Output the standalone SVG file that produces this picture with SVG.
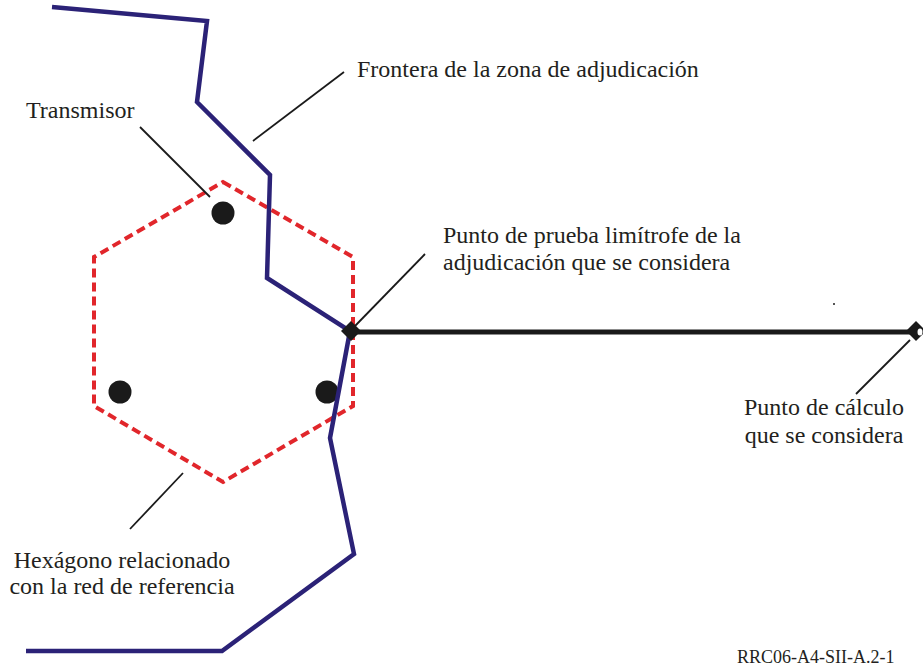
<svg xmlns="http://www.w3.org/2000/svg" width="923" height="668" viewBox="0 0 923 668">
<style>
.lead{stroke:#1a1a1a;stroke-width:1.8;fill:none}
.border{stroke:#2b2277;stroke-width:4.5;fill:none;stroke-linejoin:miter}
.hex{stroke:#e1262b;stroke-width:4;fill:none;stroke-dasharray:9 5}
.dot{fill:#1a1a1a}
</style>
<rect width="923" height="668" fill="#ffffff"/>
<g id="hexagon">
<polygon class="hex" points="223,182 353,257 353,406 223,482 94,406 94,257"/>
</g>
<g id="transmitters">
<circle class="dot" cx="223" cy="213" r="11.5"/>
<circle class="dot" cx="120" cy="392" r="11.5"/>
<circle class="dot" cx="327" cy="392" r="11.5"/>
</g>
<g id="boundary">
<polyline class="border" points="52,7 207,21 197,102 270,175 267,278 350,331 330,438 354,554 222,651 26,651"/>
</g>
<g id="connectors">
<line x1="351" y1="332" x2="914" y2="332" stroke="#1a1a1a" stroke-width="5"/>
<line class="lead" x1="140" y1="127" x2="210" y2="197"/>
<line class="lead" x1="253" y1="141" x2="344" y2="72"/>
<line class="lead" x1="355" y1="326" x2="425" y2="254"/>
<line class="lead" x1="910" y1="340" x2="856" y2="394"/>
<line class="lead" x1="183" y1="473" x2="130" y2="529"/>
</g>
<g id="test-point">
<polygon points="351,321 361,331 351,341 341,331" fill="#1a1a1a"/>
</g>
<g id="calc-point">
<polygon points="916,321 926,331 916,341 906,331" fill="#1a1a1a"/>
<ellipse cx="920" cy="332" rx="2.5" ry="3.5" fill="#ffffff"/>
</g>
<rect x="833" y="303" width="2" height="2" fill="#555"/>
<g id="labels" font-family="Liberation Serif, Times New Roman, serif" font-size="24" fill="#231f20">
<text x="26" y="118">Transmisor</text>
<text x="357" y="77">Frontera de la zona de adjudicación</text>
<text x="443" y="243">Punto de prueba limítrofe de la</text>
<text x="443" y="270">adjudicación que se considera</text>
<text x="824" y="415" text-anchor="middle">Punto de cálculo</text>
<text x="824" y="443" text-anchor="middle">que se considera</text>
<text x="122" y="568" text-anchor="middle">Hexágono relacionado</text>
<text x="122" y="594" text-anchor="middle">con la red de referencia</text>
<text x="737" y="663" font-size="18">RRC06-A4-SII-A.2-1</text>
</g>
</svg>
